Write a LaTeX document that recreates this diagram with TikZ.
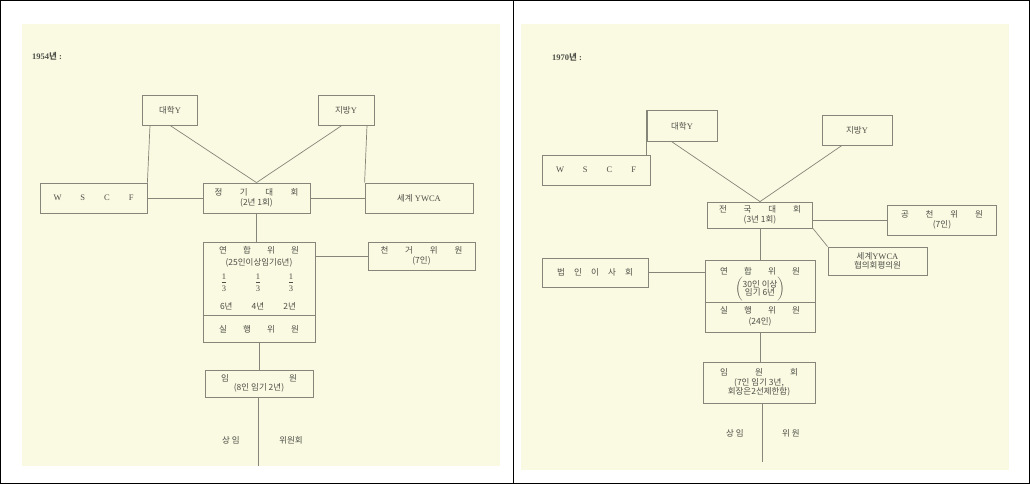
\documentclass[tikz,border=0pt]{standalone}
\usepackage{fontspec}
\setmainfont{Liberation Serif}
\newfontfamily\kr{Noto Sans CJK KR}
\definecolor{cream}{HTML}{FAFAE2}
\definecolor{lc}{HTML}{85857A}
\definecolor{tc}{HTML}{4E4E48}
\newcommand\spread[2]{\makebox[#1][s]{#2}}
\newcommand\bfnt{\fontsize{8.5}{11.5}\selectfont}
\newcommand\fracthird{{\setlength{\tabcolsep}{0pt}\setlength{\arrayrulewidth}{0.6pt}\begin{tabular}{c}\rule[-1.5pt]{0pt}{8pt}1\\\hline\rule{0pt}{8.5pt}3\end{tabular}}}
\begin{document}
\begin{tikzpicture}[x=1pt,y=-1pt,
  box/.style={draw=lc, line width=0.8pt, inner sep=0pt, align=center, text=tc, font=\bfnt},
  lab/.style={inner sep=0pt, text=tc, font=\bfnt, align=center},
  conn/.style={draw=lc, line width=0.7pt}]
\useasboundingbox (0,0) rectangle (1030,484);
% page frame
\fill[cream] (22,24) rectangle (500,466);
\fill[cream] (521,24) rectangle (1009,470);
\draw[black, line width=0.8pt] (0.5,0.5) rectangle (1029.5,483.5);
\draw[black, line width=0.8pt] (513,0.5) -- (513,483.5);

% ---------------- 1954 ----------------
\node[lab, anchor=west, font=\fontsize{8.5}{10}\selectfont\bfseries] (t1) at (32,56) {1954{\kr 년} :};
\node[box, minimum width=55pt, minimum height=30pt] (dY1) at (170,110) {{\kr 대학}Y};
\node[box, minimum width=56pt, minimum height=30pt] (jY1) at (346,110) {{\kr 지방}Y};
\node[box, minimum width=107pt, minimum height=30pt] (wscf1) at (93.5,198) {\spread{80pt}{W S C F}};
\node[box, minimum width=107pt, minimum height=30pt] (jg1) at (256.5,198) {\kr\spread{84pt}{정 기 대 회}\\[-2pt]\kr (2년 1회)};
\node[box, minimum width=108pt, minimum height=30pt] (syw1) at (419,198) {{\kr 세계} YWCA};
\node[box, minimum width=112pt, minimum height=100pt] (yh1) at (259,292) {};
\draw[lc, line width=0.8pt] ([yshift=27pt]yh1.south west) -- ([yshift=27pt]yh1.south east);
\node[lab] (yh1a) at (259,250) {\kr\spread{80pt}{연 합 위 원}};
\node[lab] (yh1b) at (259,263) {\kr (25인이상임기6년)};
\node[lab] (yh1c) at (224,283) {\fracthird};
\node[lab] (yh1d) at (258,283) {\fracthird};
\node[lab] (yh1e) at (291,283) {\fracthird};
\node[lab] (yh1f) at (258,306) {\kr\spread{76pt}{6년 4년 2년}};
\node[lab] (yh1g) at (259,329) {\kr\spread{80pt}{실 행 위 원}};
\node[box, minimum width=107pt, minimum height=28pt] (cg1) at (421.5,256) {\kr\spread{82pt}{천 거 위 원}\\[-2pt]\kr (7인)};
\node[box, minimum width=108pt, minimum height=27pt] (iw1) at (259,383.5) {\kr\spread{76pt}{임 원}\\[-2pt]\kr (8인 임기 2년)};
\coordinate (end1) at (258,466);
\node[lab] (si1) at (231,440) {\kr 상 임};
\node[lab] (wh1) at (291,440) {\kr 위원회};

\draw[conn] ([xshift=-20pt]dY1.south) -- (wscf1.north east);
\draw[conn] (dY1.south) -- (jg1.north);
\draw[conn] ([xshift=-4pt]jY1.south) -- (jg1.north);
\draw[conn] ([xshift=21pt]jY1.south) -- (syw1.north west);
\draw[conn] (wscf1.east) -- (jg1.west);
\draw[conn] (jg1.east) -- (syw1.west);
\draw[conn] (jg1.south) -- (jg1.south |- yh1.north);
\draw[conn] (yh1.east |- cg1.west) -- (cg1.west);
\draw[conn] (yh1.south) -- (iw1.north);
\draw[conn] (iw1.south -| end1) -- (end1);

% ---------------- 1970 ----------------
\node[lab, anchor=west, font=\fontsize{8.5}{10}\selectfont\bfseries] (t2) at (552,57) {1970{\kr 년} :};
\node[box, minimum width=70pt, minimum height=31pt] (dY2) at (682,126) {{\kr 대학}Y};
\node[box, minimum width=108pt, minimum height=30pt] (wscf2) at (596,170) {\spread{80pt}{W S C F}};
\node[box, minimum width=70pt, minimum height=30pt] (jY2) at (857,130) {{\kr 지방}Y};
\node[box, minimum width=105pt, minimum height=26pt] (jk2) at (760,215) {\kr\spread{82pt}{전 국 대 회}\\[-2pt]\kr (3년 1회)};
\node[box, minimum width=109pt, minimum height=30pt] (gc2) at (942,220) {\kr\spread{82pt}{공 천 위 원}\\[-2pt]\kr (7인)};
\node[box, minimum width=99pt, minimum height=28pt] (sy2) at (877.5,261) {{\kr 세계}YWCA\\[-2pt]\kr 협의회평의원};
\node[box, minimum width=106pt, minimum height=29pt] (bi2) at (595,272.5) {\kr\spread{76pt}{법 인 이 사 회}};
\node[box, minimum width=110pt, minimum height=72pt] (yh2) at (760,296) {};
\draw[lc, line width=0.8pt] ([yshift=30pt]yh2.south west) -- ([yshift=30pt]yh2.south east);
\node[lab] (yh2a) at (760,271) {\kr\spread{80pt}{연 합 위 원}};
\node[lab] (yh2b) at (760,289) {$\left(\begin{tabular}{@{}c@{}}\kr 30인 이상\\[-3pt]\kr 임기 6년\end{tabular}\right)$};
\node[lab] (yh2c) at (760,310) {\kr\spread{80pt}{실 행 위 원}};
\node[lab] (yh2d) at (760,322) {\kr (24인)};
\node[box, minimum width=112pt, minimum height=41pt] (im2) at (759,382.5) {\kr\spread{78pt}{임 원 회}\\[-2pt]\kr (7인 임기 3년,\\[-2pt]\kr 회장은2선제한함)};
\coordinate (end2) at (762,462);
\node[lab] (si2) at (735,433) {\kr 상 임};
\node[lab] (wh2) at (791,433) {\kr 위 원};

\draw[conn] (dY2.north west) -- (dY2.north west |- wscf2.north);
\draw[conn] ([xshift=-10pt]dY2.south) -- (jk2.north);
\draw[conn] ([xshift=-15pt]jY2.south) -- (jk2.north);
\draw[conn] (jk2.east |- gc2.west) -- (gc2.west);
\draw[conn] (jk2.south east) -- (sy2.north west);
\draw[conn] (jk2.south) -- (jk2.south |- yh2.north);
\draw[conn] (bi2.east) -- (bi2.east -| yh2.west);
\draw[conn] (yh2.south) -- (yh2.south |- im2.north);
\draw[conn] (im2.south -| end2) -- (end2);
\end{tikzpicture}
\end{document}
